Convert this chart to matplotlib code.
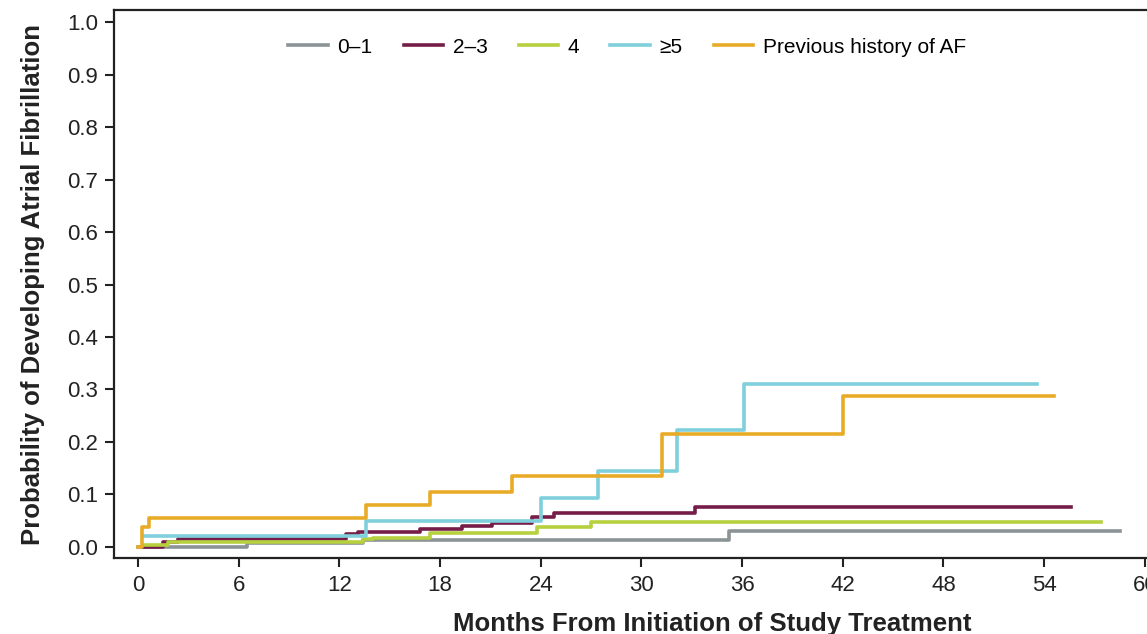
import matplotlib
matplotlib.use("Agg")
import matplotlib.pyplot as plt

plt.rcParams['font.family'] = ['Liberation Sans', 'DejaVu Sans']

labels = ["0\u20131", "2\u20133", "4", "\u22655", "Previous history of AF"]
colors = ["#8b9396", "#751d48", "#b6d03f", "#80cfdd", "#e8ab28"]

t_01 = [0, 6.5, 13.4, 35.2, 58.5]
p_01 = [0.0, 0.007, 0.013, 0.030, 0.030]

t_23 = [0.3, 1.5, 2.4, 12.4, 13.1, 16.8, 19.3, 21.1, 23.5, 24.8, 33.2, 55.6]
p_23 = [0.0, 0.010, 0.015, 0.025, 0.028, 0.034, 0.039, 0.045, 0.058, 0.065, 0.076, 0.076]

t_4 = [0.4, 1.8, 13.4, 14.0, 17.4, 23.8, 27.0, 57.4]
p_4 = [0.004, 0.010, 0.015, 0.018, 0.026, 0.038, 0.048, 0.048]

t_5 = [0.35, 13.6, 24.0, 27.4, 32.1, 36.1, 53.6]
p_5 = [0.021, 0.050, 0.093, 0.145, 0.223, 0.310, 0.310]

t_af = [0, 0.25, 0.65, 13.6, 17.4, 22.3, 31.2, 42.0, 54.6]
p_af = [0.0, 0.038, 0.055, 0.080, 0.105, 0.135, 0.216, 0.287, 0.287]

series = [(t_01, p_01), (t_23, p_23), (t_4, p_4), (t_5, p_5), (t_af, p_af)]

xticks = list(range(0, 61, 6))
yticks = [i / 10 for i in range(11)]

fig = plt.figure(figsize=(11.47, 6.34), dpi=100)
ax = fig.add_axes([0.0994, 0.1199, 0.928, 0.8643])

for (t, p), c, lab in zip(series, colors, labels):
    ax.step(t, p, where='post', color=c, lw=2.6, label=lab)

ax.set_xlim(-1.43, 62)
ax.set_ylim(-0.021, 1.023)
ax.set_xticks(xticks)
ax.set_yticks(yticks)
ax.set_yticklabels([f"{v:.1f}" for v in yticks])
for s in ax.spines.values():
    s.set_linewidth(1.6)
    s.set_color("#222222")
ax.tick_params(axis='both', direction='out', length=6.5, width=1.5, labelsize=16, colors="#222222")
ax.tick_params(axis='x', pad=6)
ax.tick_params(axis='y', pad=5)

ax.set_xlabel("Months From Initiation of Study Treatment", fontsize=18.5, fontweight='bold',
              color="#222222")
ax.xaxis.set_label_coords(0.562, -0.098)
ax.set_ylabel("Probability of Developing Atrial Fibrillation", fontsize=18.5, fontweight='bold',
              labelpad=16, color="#222222")

ax.legend(loc='center', bbox_to_anchor=(0.482, 0.932), ncol=5, frameon=False, fontsize=15,
          handlelength=1.9, handletextpad=0.45, columnspacing=1.5)

fig.savefig("out.png", dpi=100)
